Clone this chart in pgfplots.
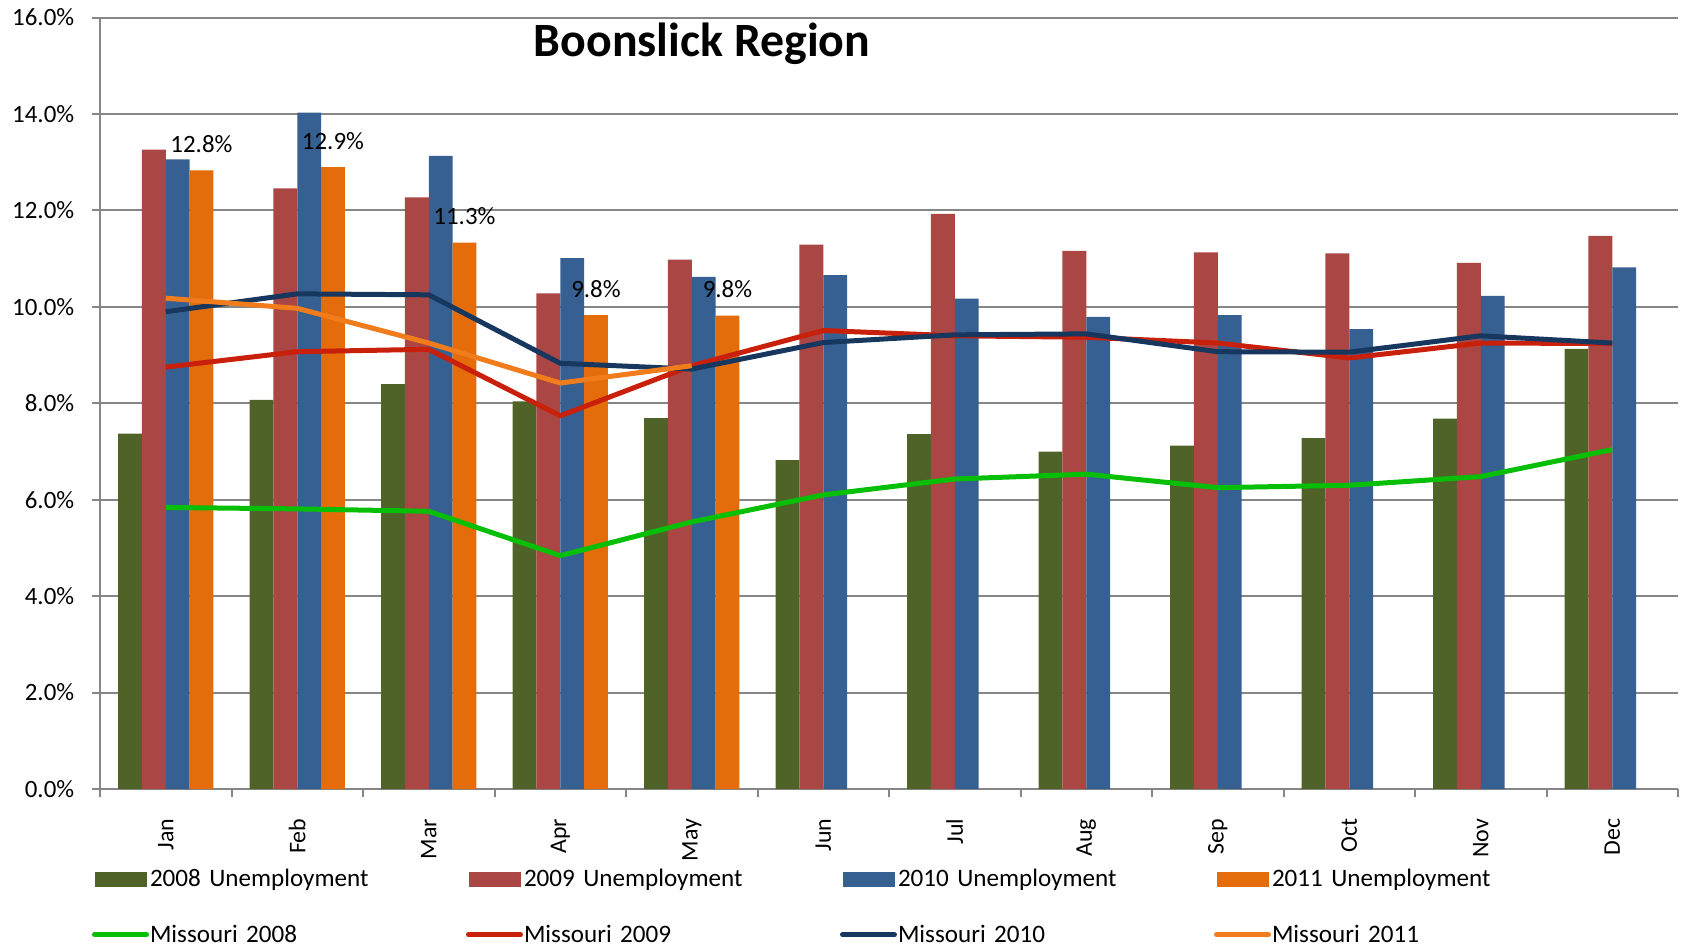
\documentclass[border=0pt]{standalone}
\usepackage{pgfplots}
\pgfplotsset{compat=1.18}
\usepackage{fontspec}
\setmainfont{Carlito}

\definecolor{bar08}{HTML}{4F6228}
\definecolor{bar09}{HTML}{AA4643}
\definecolor{bar10}{HTML}{376092}
\definecolor{bar11}{HTML}{E46C0A}
\definecolor{mo08}{HTML}{08BF08}
\definecolor{mo09}{HTML}{C8200A}
\definecolor{mo10}{HTML}{17375E}
\definecolor{mo11}{HTML}{F07C1C}
\definecolor{gridgray}{HTML}{868686}

\pgfplotsset{
  mybar/.style={fill=#1, draw=none,
    legend image code/.code={\fill[##1] (0bp,-6bp) rectangle (26bp,1.5bp);}},
  myline/.style={sharp plot, draw=#1, line width=2.5bp, line join=round, mark=none,
    legend image code/.code={\draw[##1, line cap=round] (0bp,-2.3bp) -- (26bp,-2.3bp);}},
}

\begin{document}
\begin{tikzpicture}
  \path[use as bounding box] (-50bp,-80bp) rectangle (791.5bp,394.5bp);
  \begin{axis}[
      scale only axis,
      width=789bp, height=385.7bp,
      ybar=0pt, bar width=0.181,
      xmin=-0.5, xmax=11.5, ymin=0, ymax=16,
      clip=false,
      axis x line*=bottom, axis y line*=left,
      axis line style={draw=gridgray, line width=1bp},
      ytick={0,2,...,16},
      yticklabels={0.0\%,2.0\%,4.0\%,6.0\%,8.0\%,10.0\%,12.0\%,14.0\%,16.0\%},
      ymajorgrids,
      major grid style={draw=gridgray, line width=1bp},
      xtick={0,...,11},
      xticklabels={Jan,Feb,Mar,Apr,May,Jun,Jul,Aug,Sep,Oct,Nov,Dec},
      major x tick style={draw=none},
      minor xtick={-0.5,0.5,...,11.5},
      tick align=outside,
      major tick length=4.2bp, minor tick length=4bp,
      tick style={draw=gridgray, line width=1bp},
      yticklabel style={font=\fontsize{12.5}{15}\selectfont, anchor=east, inner sep=0pt},
      yticklabel shift=8.5bp,
      xticklabel style={font=\fontsize{12}{14}\selectfont, rotate=90, anchor=east, inner sep=0pt},
      xticklabel shift=10.5bp,
      legend columns=4,
      legend cell align=left,
      legend style={draw=none, fill=none, inner sep=0pt, outer sep=0pt,
        at={(axis description cs:0,0)}, anchor=north west,
        xshift=-4bp, yshift=-36.85bp,
        column sep=0pt, row sep=15.65bp,
        font=\fontsize{12.6}{15}\selectfont,
        nodes={inner xsep=0.5bp, inner ysep=0pt, text height=12bp, text depth=0bp},
        /tikz/every even column/.append style={text width=157.5bp, align=left}},
    ]

    % regional unemployment, per cent
    \addplot[mybar=bar08] coordinates {(0,7.37)(1,8.07)(2,8.40)(3,8.04)(4,7.69)(5,6.82)
      (6,7.36)(7,7.00)(8,7.12)(9,7.28)(10,7.68)(11,9.13)};
    \addplot[mybar=bar09] coordinates {(0,13.26)(1,12.46)(2,12.27)(3,10.28)(4,10.98)(5,11.29)
      (6,11.93)(7,11.16)(8,11.13)(9,11.11)(10,10.91)(11,11.47)};
    \addplot[mybar=bar10] coordinates {(0,13.06)(1,14.03)(2,13.13)(3,11.01)(4,10.62)(5,10.66)
      (6,10.17)(7,9.79)(8,9.83)(9,9.54)(10,10.23)(11,10.82)};
    \addplot[mybar=bar11, nodes near coords, point meta=y,
      nodes near coords={\pgfmathprintnumber[assume math mode=true,fixed,fixed zerofill,precision=1]{\pgfplotspointmeta}\%},
      every node near coord/.append style={font=\fontsize{12.5}{15}\selectfont, text=black,
        anchor=base, inner sep=0pt, yshift=9bp}]
      coordinates {(0,12.83)(1,12.90)(2,11.33)(3,9.83)(4,9.82)};

    % Missouri
    \addplot[myline=mo08] coordinates {(0,5.84)(1,5.81)(2,5.76)(3,4.84)(4,5.54)(5,6.10)
      (6,6.43)(7,6.53)(8,6.25)(9,6.30)(10,6.48)(11,7.04)};
    \addplot[myline=mo09] coordinates {(0,8.75)(1,9.07)(2,9.12)(3,7.74)(4,8.78)(5,9.51)
      (6,9.40)(7,9.37)(8,9.25)(9,8.94)(10,9.25)(11,9.24)};
    \addplot[myline=mo10] coordinates {(0,9.90)(1,10.27)(2,10.25)(3,8.83)(4,8.71)(5,9.26)
      (6,9.42)(7,9.44)(8,9.07)(9,9.06)(10,9.40)(11,9.25)};
    \addplot[myline=mo11] coordinates {(0,10.18)(1,9.97)(2,9.25)(3,8.42)(4,8.78)};

    \legend{2008 Unemployment,2009 Unemployment,2010 Unemployment,2011 Unemployment,
      Missouri 2008,Missouri 2009,Missouri 2010,Missouri 2011}

    \node[anchor=base, font=\fontsize{24}{28}\selectfont\bfseries]
      at (rel axis cs:0.3815,0.949) {Boonslick Region};
  \end{axis}
\end{tikzpicture}
\end{document}
